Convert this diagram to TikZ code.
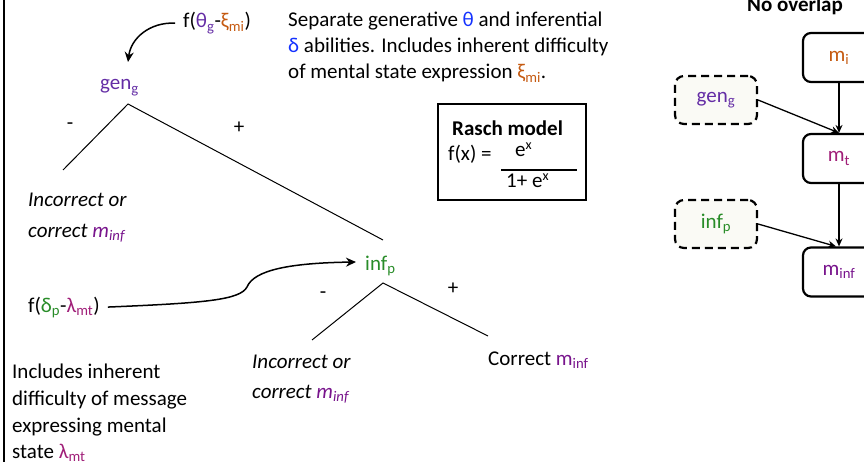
\documentclass[tikz,border=0pt]{standalone}
\usepackage{fontspec}
\setmainfont{Carlito}
\usetikzlibrary{arrows.meta}
\definecolor{gpurple}{RGB}{100,45,165}
\definecolor{orng}{RGB}{197,90,17}
\definecolor{tblue}{RGB}{20,50,255}
\definecolor{grn}{RGB}{40,140,40}
\definecolor{mag}{RGB}{160,30,120}
\definecolor{minfc}{RGB}{120,20,140}
\definecolor{dfill}{RGB}{250,250,245}
\newcommand\sbs[1]{\textsubscript{#1}}
\newcommand\sps[1]{\raisebox{7pt}{\fontsize{14}{14}\selectfont #1}}
\begin{document}
\begin{tikzpicture}[x=1pt,y=-1pt,
  font=\fontsize{21}{26}\selectfont,
  txt/.style={anchor=base west, inner sep=0pt},
  sgn/.style={anchor=center, inner sep=0pt},
  branch/.style={line width=1pt},
  bigarrow/.style={line width=1.5pt, -{Stealth[length=10pt,width=9pt]}},
  rbox/.style={draw, rounded corners=8pt, line width=2.2pt, minimum width=72pt, minimum height=49pt, inner sep=0pt},
  dbox/.style={draw, dashed, dash pattern=on 8pt off 5pt, fill=dfill, rounded corners=9pt, line width=2.2pt, minimum width=82pt, minimum height=48pt, inner sep=0pt},
  flow/.style={line width=1.3pt, -{Stealth[length=8pt,width=7pt]}}]
\useasboundingbox (0,0) rectangle (864,462);
% left rule
\draw[line width=2.5pt] (4,0) -- (4,462);

% top formula and gen node
\node[txt] (fth) at (183,28) {f({\color{gpurple}θ\sbs{g}}-{\color{orng}ξ\sbs{mi}})};
\node[txt, text=gpurple] (gen) at (100,90) {gen\sbs{g}};
\coordinate (genin) at (128,62);
\draw[bigarrow] ([xshift=-8pt]fth.west) .. controls (150,22) and (131,38) .. (genin);

% tree 1
\coordinate (t1) at (128,104);
\coordinate (t1l) at (63,170);
\coordinate (t1r) at (383,240);
\draw[branch] (t1l) -- (t1) -- (t1r);
\node[sgn] (m1) at (70,126) {-};
\node[sgn] (p1) at (239,128) {+};
\node[txt] (ic1a) at (28,207) {\itshape Incorrect or};
\node[txt] (ic1b) at (28,237) {\itshape correct {\color{minfc}m\sbs{inf}}};

% second formula
\node[txt] (fdl) at (28,312) {f({\color{grn}δ\sbs{p}}-{\color{mag}λ\sbs{mt}})};
\node[txt, text=grn] (inf) at (365,270) {inf\sbs{p}};
\coordinate (infin) at (356,262);
\draw[bigarrow] ([xshift=8pt]fdl.east) .. controls (205,303) and (240,300) .. (247,287)
  .. controls (254,270) and (290,263) .. (infin);

% tree 2
\coordinate (t2) at (383,283);
\coordinate (t2l) at (312,340);
\coordinate (t2r) at (488,336);
\draw[branch] (t2l) -- (t2) -- (t2r);
\node[sgn] (m2) at (323,295) {-};
\node[sgn] (p2) at (453,289) {+};
\node[txt] (ic2a) at (252,368) {\itshape Incorrect or};
\node[txt] (ic2b) at (252,398) {\itshape correct {\color{minfc}m\sbs{inf}}};
\node[txt] (cor) at (488,365) {Correct {\color{minfc}m\sbs{inf}}};

% bottom-left note
\node[txt] (n1) at (12,378) {Includes inherent};
\node[txt] (n2) at (12,405) {difficulty of message};
\node[txt] (n3) at (12,432) {expressing mental};
\node[txt] (n4) at (12,458) {state {\color{mag}λ\sbs{mt}}};

% top description
\node[txt] (d1) at (288,27) {Separate generative {\color{tblue}θ} and inferential};
\node[txt] (d2) at (288,53) {{\color{tblue}δ} abilities. Includes inherent difficulty};
\node[txt] (d3) at (288,79) {of mental state expression {\color{orng}ξ\sbs{mi}}.};

% Rasch box
\node[draw, line width=1.6pt, minimum width=148pt, minimum height=96pt, inner sep=0pt] (rasch) at (512,152) {};
\node[txt, font=\fontsize{21}{26}\selectfont\bfseries] (rt) at (452,136) {Rasch model};
\node[txt] (rf) at (448,161) {f(x) =};
\node[txt] (rnum) at (515,157) {e\sps{x}};
\coordinate (fl) at (501,170);
\coordinate (fr) at (577,170);
\draw[line width=1.2pt] (fl) -- (fr);
\node[txt] (rden) at (506,188) {1+ e\sps{x}};

% right diagram
\node[anchor=base, inner sep=0pt, font=\fontsize{21}{26}\selectfont\bfseries] (nov) at (795,12) {No overlap};
\node[rbox, text=orng] (mi) at (839,57.5) {m\sbs{i}};
\node[rbox, text=mag] (mt) at (839,158.5) {m\sbs{t}};
\node[rbox, text=minfc] (minf) at (839,272) {m\sbs{inf}};
\node[dbox, text=gpurple] (gen2) at (716,100) {gen\sbs{g}};
\node[dbox, text=grn] (inf2) at (716,224) {inf\sbs{p}};
\draw[flow] (mi.south) -- (mt.north);
\draw[flow] (mt.south) -- (minf.north);
\draw[flow] (gen2.east) -- (mt.north);
\draw[flow] (inf2.east) -- ([xshift=-3pt]minf.north);
\end{tikzpicture}
\end{document}
